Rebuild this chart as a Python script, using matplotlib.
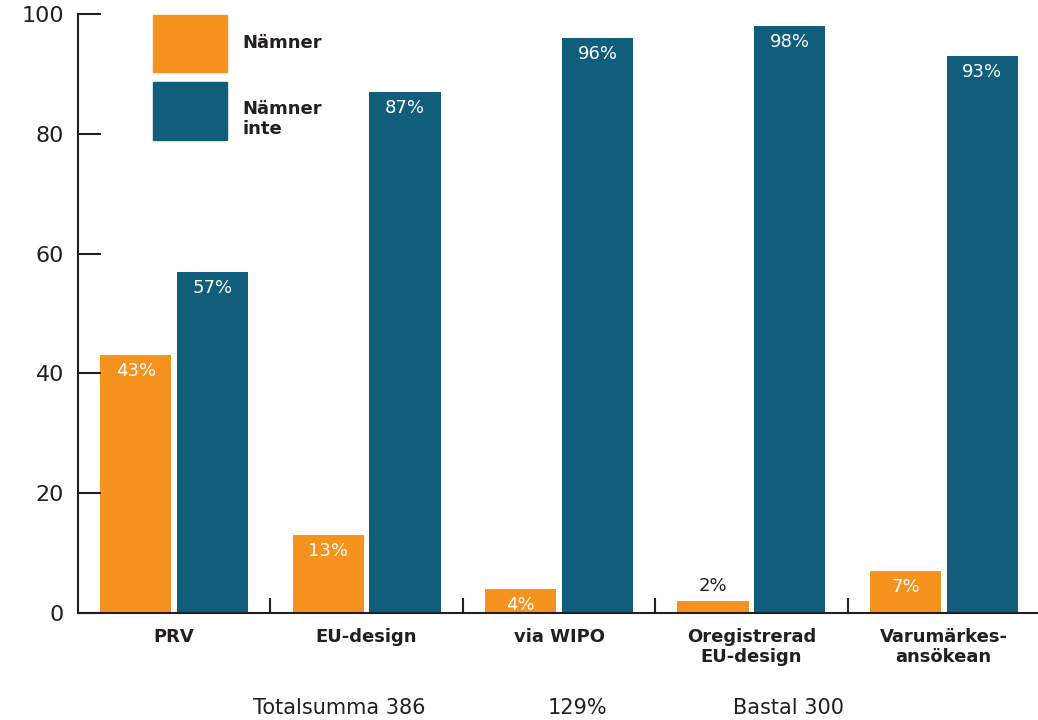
import numpy as np
import matplotlib
matplotlib.use("Agg")
import matplotlib.pyplot as plt

# data
categories = ["PRV", "EU-design", "via WIPO", "Oregistrerad\nEU-design", "Varumärkes-\nansökean"]
namner = [43, 13, 4, 2, 7]
namner_inte = [57, 87, 96, 98, 93]
series_names = ["Nämner", "Nämner\ninte"]
footer = ["Totalsumma 386", "129%", "Bastal 300"]

orange = "#F6931F"
blue = "#115E7C"
dark = "#231F20"

plt.rcParams['font.family'] = ['DejaVu Sans']

fig = plt.figure(figsize=(10.38, 7.2), dpi=100)
ax = fig.add_axes([78 / 1038, 107 / 720, 962 / 1038, 599 / 720])

x = np.arange(len(categories))
w = 0.37
off = 0.2
b1 = ax.bar(x - off, namner, w, color=orange)
b2 = ax.bar(x + off, namner_inte, w, color=blue)

# värdeetiketter
for bars, vals in ((b1, namner), (b2, namner_inte)):
    for rect, v in zip(bars, vals):
        cx = rect.get_x() + rect.get_width() / 2
        if v < 3:
            ax.annotate(f"{v}%", (cx, v), xytext=(0, 4), textcoords="offset points",
                        ha="center", va="bottom", color=dark, fontsize=13)
        else:
            ax.annotate(f"{v}%", (cx, v), xytext=(0, -5), textcoords="offset points",
                        ha="center", va="top", color="white", fontsize=13)

ax.set_xlim(-0.5, 4.5)
ax.set_ylim(0, 100)
ax.set_yticks([0, 20, 40, 60, 80, 100])
ax.tick_params(axis="y", direction="in", length=16.5, width=1.5, color=dark,
               labelsize=16, pad=10, labelcolor=dark)
ax.set_xticks(x)
ax.set_xticklabels(categories, fontweight="bold", fontsize=13, color=dark,
                   linespacing=1.1)
ax.tick_params(axis="x", which="major", length=0, pad=11)
ax.set_xticks(x[:-1] + 0.5, minor=True)
ax.tick_params(axis="x", which="minor", direction="in", length=11, width=1.5, color=dark)

for s in ("top", "right"):
    ax.spines[s].set_visible(False)
for s in ("left", "bottom"):
    ax.spines[s].set_linewidth(1.5)
    ax.spines[s].set_color(dark)

# förklaring
fig.patches.append(plt.Rectangle((153 / 1038, 1 - 72 / 720), 74 / 1038, 57 / 720,
                                 transform=fig.transFigure, color=orange))
fig.patches.append(plt.Rectangle((153 / 1038, 1 - 140 / 720), 74 / 1038, 58 / 720,
                                 transform=fig.transFigure, color=blue))
fig.text(242 / 1038, 1 - 43 / 720, series_names[0], fontweight="bold", fontsize=13,
         color=dark, va="center", ha="left")
fig.text(242 / 1038, 1 - 119 / 720, series_names[1], fontweight="bold", fontsize=13,
         color=dark, va="center", ha="left", linespacing=1.1)

# fotnot
fig.text(253 / 1038, 1 - 708 / 720, footer[0], fontsize=15, color=dark, va="center", ha="left")
fig.text(578 / 1038, 1 - 708 / 720, footer[1], fontsize=15, color=dark, va="center", ha="center")
fig.text(733 / 1038, 1 - 708 / 720, footer[2], fontsize=15, color=dark, va="center", ha="left")

fig.savefig("out.png", dpi=100)
